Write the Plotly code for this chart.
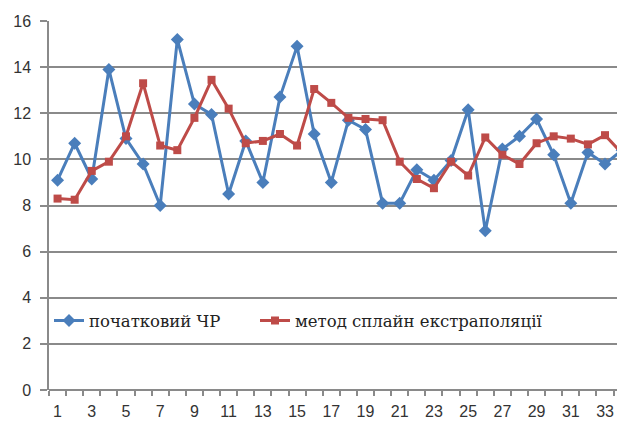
import plotly.graph_objects as go

categories = list(range(1, 35))
initial_series = [9.1, 10.7, 9.15, 13.9, 10.9, 9.8, 8.0, 15.2, 12.4, 11.95,
                  8.5, 10.8, 9.0, 12.7, 14.9, 11.1, 9.0, 11.7, 11.3, 8.1,
                  8.1, 9.55, 9.1, 9.95, 12.15, 6.9, 10.45, 11.0, 11.75, 10.2,
                  8.1, 10.3, 9.8, 10.4]
spline_series = [8.3, 8.25, 9.5, 9.9, 11.0, 13.3, 10.6, 10.4, 11.8, 13.45,
                 12.2, 10.7, 10.8, 11.1, 10.6, 13.05, 12.45, 11.8, 11.75, 11.7,
                 9.9, 9.15, 8.75, 9.9, 9.3, 10.95, 10.2, 9.8, 10.7, 11.0,
                 10.9, 10.65, 11.05, 10.25]
x_tick_labels = [str(c) for c in categories if c % 2 == 1]
x_tick_vals = [c for c in categories if c % 2 == 1]
y_tick_vals = [0, 2, 4, 6, 8, 10, 12, 14, 16]

grid = "#8a8a8a"
legend_font = dict(family="DejaVu Serif", size=16.5, color="#222")

fig = go.Figure()
fig.add_trace(go.Scatter(
    x=categories, y=initial_series, name="початковий ЧР",
    mode="lines+markers",
    line=dict(color="#4A7EBB", width=3),
    marker=dict(symbol="diamond", size=10, color="#4A7EBB"),
    legend="legend",
))
fig.add_trace(go.Scatter(
    x=categories, y=spline_series, name="метод сплайн екстраполяції",
    mode="lines+markers",
    line=dict(color="#BE4B48", width=3),
    marker=dict(symbol="square", size=8, color="#BE4B48"),
    legend="legend2",
))

fig.update_layout(
    width=617, height=432,
    margin=dict(l=49, r=0, t=21, b=42),
    paper_bgcolor="white", plot_bgcolor="white",
    showlegend=True,
    legend=dict(
        orientation="h", x=0.0, xanchor="left", y=3 / 16, yanchor="middle",
        bgcolor="rgba(255,255,255,0)", font=legend_font,
    ),
    legend2=dict(
        orientation="h", x=206 / 568, xanchor="left", y=3 / 16, yanchor="middle",
        bgcolor="rgba(255,255,255,0)", font=legend_font,
    ),
    xaxis=dict(
        range=[0.5, 33.7], tickmode="array", tickvals=x_tick_vals,
        ticktext=x_tick_labels, ticks="", showgrid=False, zeroline=False,
        showline=False, automargin=False,
        tickfont=dict(family="Liberation Sans", size=16, color="#333"),
        ticklabelstandoff=10,
        minor=dict(tick0=0.5, dtick=1, ticks="outside", ticklen=5,
                   tickcolor=grid, tickwidth=1.5, showgrid=False),
    ),
    yaxis=dict(
        range=[0, 16], tickmode="array", tickvals=y_tick_vals,
        showgrid=True, gridcolor=grid, gridwidth=1.5,
        zeroline=True, zerolinecolor=grid, zerolinewidth=1.5,
        showline=True, linecolor=grid, linewidth=1.5, automargin=False,
        ticks="outside", ticklen=7, tickcolor=grid, tickwidth=1.5,
        tickfont=dict(family="Liberation Sans", size=16, color="#333"),
        ticklabelstandoff=6,
    ),
)

fig.write_html("out.html", config={"displayModeBar": False},
               post_script="document.body.style.margin='0px';document.body.style.overflow='hidden';")
